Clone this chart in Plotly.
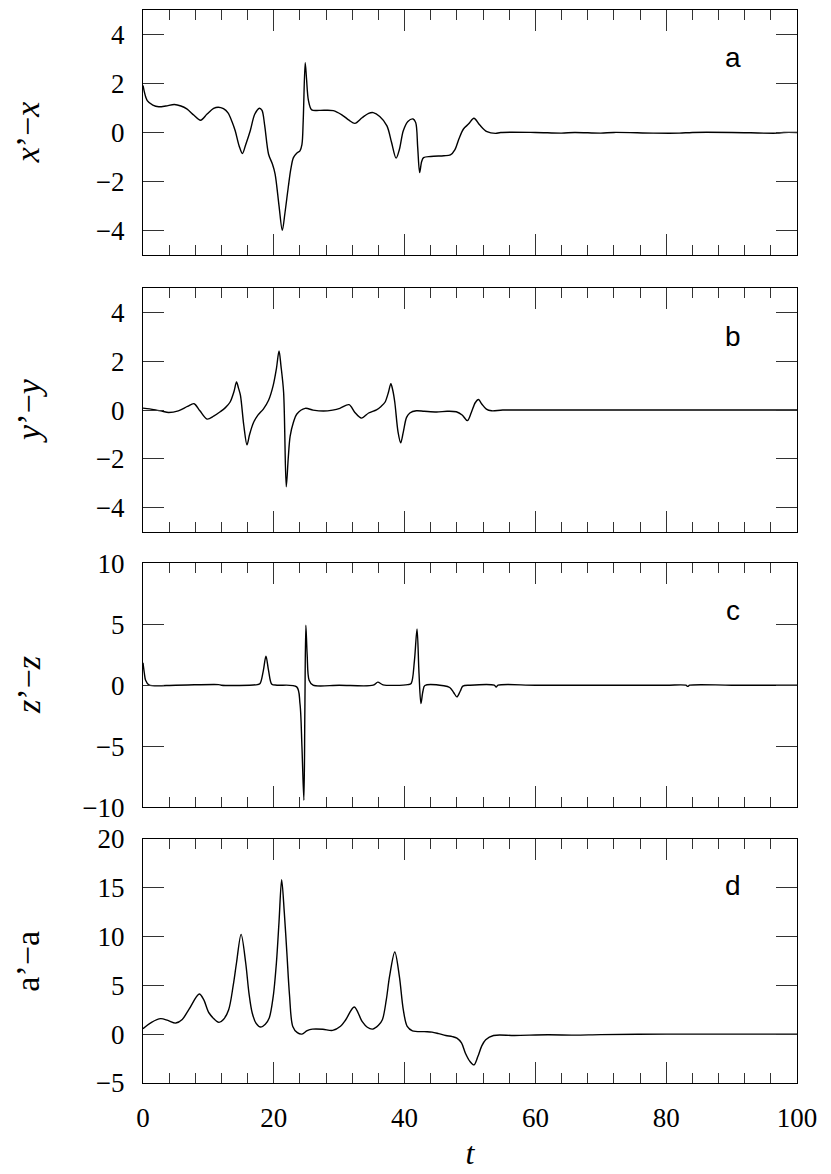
import plotly.graph_objects as go

# ---- data ----
t_a = [0, 0.65, 1.5, 2.4, 3.5, 4.8, 5.8, 6.7, 7.8, 8.8, 9.8, 10.8, 11.5, 12.3, 13.0, 13.6, 14.1, 14.7, 15.2, 15.7,
       16.4, 17.1, 17.8, 18.2, 18.6, 19.2, 19.8, 20.2, 20.8, 21.3, 21.7, 22.2, 22.6, 23.0, 23.5, 24.0, 24.3, 24.5,
       24.8, 25.0, 25.3, 25.8, 27, 29.1, 30.5, 31.5, 32.4, 33.5, 34.5, 35.2, 36.2, 37.3, 38.0, 38.7, 39.2, 39.8,
       40.5, 41.3, 41.7, 42.0, 42.3, 42.6, 42.9, 44, 46, 47.0, 47.7, 48.3, 49.0, 49.8, 50.6, 51.5, 52.6, 53.9,
       54.7, 60, 64, 66, 70, 72, 78, 82, 84, 90, 97, 98, 100]
v_a = [1.92, 1.3, 1.12, 1.05, 1.08, 1.14, 1.08, 0.96, 0.7, 0.5, 0.75, 0.98, 1.03, 0.97, 0.8, 0.45, 0.07, -0.55, -0.86, -0.5,
       0.07, 0.75, 0.99, 0.9, 0.3, -0.89, -1.3, -1.7, -3.0, -4.0, -3.3, -2.26, -1.5, -1.03, -0.85, -0.75, -0.5, 0.5,
       2.85, 2.2, 1.3, 0.92, 0.9, 0.89, 0.7, 0.5, 0.37, 0.6, 0.78, 0.81, 0.65, 0.27, -0.4, -1.05, -0.7, 0.07,
       0.45, 0.55, 0.4, -0.6, -1.64, -1.2, -1.03, -0.98, -0.95, -0.92, -0.7, -0.27, 0.14, 0.35, 0.58, 0.3, 0.03, -0.04,
       0.0, 0.0, -0.03, 0, -0.03, 0, -0.03, -0.03, 0, 0, -0.03, 0, 0]

t_b = [0, 1, 1.9, 3, 3.9, 5.4, 6.8, 7.8, 8.7, 9.8, 10.8, 11.8, 12.6, 13.3, 13.9, 14.3, 14.6, 14.9, 15.4, 15.9,
       16.3, 16.9, 17.6, 18.4, 19.2, 19.9, 20.4, 20.8, 21.1, 21.5, 21.9, 22.2, 22.5, 23.0, 23.5, 24.8, 26, 27.6,
       29, 30.1, 31.5, 32.4, 33.4, 34.5, 35.7, 36.4, 37.0, 37.5, 37.9, 38.2, 38.5, 39.0, 39.4, 39.8, 40.3, 40.8,
       41.8, 43, 44.9, 46.5, 47.9, 48.8, 49.6, 50.2, 50.8, 51.3, 51.8, 52.5, 53.3, 55, 60, 70, 80, 90, 100]
v_b = [0.08, 0.05, 0.01, -0.05, -0.1, -0.03, 0.15, 0.26, -0.03, -0.37, -0.25, -0.07, 0.1, 0.32, 0.75, 1.15, 0.9, 0.6, -0.6, -1.42,
       -1.0, -0.51, -0.2, 0.04, 0.4, 1.0, 1.7, 2.42, 1.8, 0.73, -3.14, -2.0, -1.07, -0.5, -0.17, 0.07, 0.0, -0.04,
       0.0, 0.07, 0.22, -0.1, -0.33, -0.12, 0.01, 0.15, 0.32, 0.7, 1.08, 0.8, 0.32, -0.9, -1.34, -0.9, -0.3, -0.12,
       -0.03, -0.05, -0.08, -0.05, -0.07, -0.2, -0.43, -0.1, 0.3, 0.43, 0.25, 0.04, -0.03, 0, 0, 0, 0, 0, 0]

t_c = [0, 0.2, 0.4, 0.9, 5, 11.6, 12, 17.5, 17.9, 18.4, 18.8, 19.2, 19.7, 20.5, 23.5, 24.0, 24.3, 24.6, 24.75,
       24.9, 25.1, 25.4, 26.0, 30, 35.2, 35.9, 36.7, 40.5, 41.0, 41.5, 41.9, 42.2, 42.5, 42.8, 43.1, 46.0, 46.9,
       47.5, 48.0, 48.5, 48.9, 50, 53.7, 54.0, 54.3, 60, 70, 80, 83, 83.3, 83.6, 90, 100]
v_c = [1.83, 1.0, 0.41, 0.03, 0, 0.05, 0, 0.05, 0.14, 1.2, 2.38, 1.2, 0.08, 0, -0.14, -1.5, -5, -9.43, -2,
       4.92, 2.5, 0.41, 0, 0, 0, 0.25, 0.03, 0.05, 0.14, 2.0, 4.62, 1.0, -1.5, -0.5, -0.03, -0.05, -0.19,
       -0.6, -0.96, -0.5, -0.08, 0, 0, -0.15, 0, 0, 0, 0, 0, -0.1, 0, 0, 0]

t_d = [0, 1.3, 2.7, 3.8, 5.0, 6, 7.0, 8.6, 9.3, 10.1, 11.6, 12.3, 13.1, 13.8, 14.3, 15.0, 15.7, 16.2, 16.7, 17.3,
       18.0, 18.7, 19.3, 19.9, 20.4, 20.8, 21.2, 21.6, 22.0, 22.4, 22.9, 23.6, 24.3, 25.1, 25.9, 27.5, 29.0, 30.2,
       31.0, 32.3, 33.5, 34.3, 35.1, 36.0, 36.6, 37.2, 37.7, 38.5, 39.2, 39.8, 40.4, 41.2, 43, 44.2, 45.2, 46.3,
       47.3, 48.0, 48.7, 49.3, 50.0, 50.6, 51.2, 51.8, 52.4, 53.6, 56.8, 61.9, 66, 70, 80, 90, 100]
v_d = [0.55, 1.2, 1.58, 1.4, 1.13, 1.5, 2.5, 4.1, 3.5, 2.16, 1.2, 1.5, 2.5, 5.0, 7.3, 10.2, 7.3, 4.2, 2.16, 1.1,
       0.72, 1.0, 1.64, 3.8, 7.3, 11.5, 15.8, 12.5, 8.3, 4, 0.79, 0.15, 0, 0.35, 0.51, 0.5, 0.38, 0.8,
       1.47, 2.77, 1.3, 0.7, 0.51, 0.9, 1.47, 3.5, 5.9, 8.4, 5.9, 2.5, 0.79, 0.34, 0.25, 0.2, 0.05, -0.14,
       -0.25, -0.41, -0.9, -1.95, -2.8, -3.15, -2.3, -1.2, -0.58, -0.14, -0.14, -0.07, -0.1, -0.05, 0.0, 0.0, 0.0]

panels = [
    ("a", t_a, v_a, [-5, 5], [-4, -2, 0, 2, 4], "<i>x</i>’−<i>x</i>", [0.7718, 1.0], 3.05),
    ("b", t_b, v_b, [-5, 5], [-4, -2, 0, 2, 4], "<i>y</i>’−<i>y</i>", [0.5133, 0.7410], 3.0),
    ("c", t_c, v_c, [-10, 10], [-10, -5, 0, 5, 10], "<i>z</i>’−<i>z</i>", [0.2571, 0.4844], 6.1),
    ("d", t_d, v_d, [-5, 20], [-5, 0, 5, 10, 15, 20], "a’−a", [0.0, 0.2278], 15.2),
]

FONT = "Liberation Serif, DejaVu Serif, serif"
fig = go.Figure()
layout = dict(
    width=831, height=1174,
    margin=dict(l=143, r=34, t=10, b=91, autoexpand=False),
    paper_bgcolor="white", plot_bgcolor="white",
    showlegend=False,
    annotations=[],
)

for i, (lab, tt, vv, yr, ytv, ytitle, dom, ylab) in enumerate(panels):
    n = i + 1
    xa = "x" if n == 1 else f"x{n}"
    ya = "y" if n == 1 else f"y{n}"
    fig.add_trace(go.Scatter(x=tt, y=vv, mode="lines", xaxis=xa, yaxis=ya,
                             line=dict(color="black", width=1.4, shape="spline", smoothing=0.9)))
    xkey = "xaxis" if n == 1 else f"xaxis{n}"
    ykey = "yaxis" if n == 1 else f"yaxis{n}"
    layout[xkey] = dict(
        domain=[0, 1], anchor=ya, range=[0, 100], automargin=False,
        tickmode="array", tickvals=[0, 20, 40, 60, 80, 100],
        ticks="inside", ticklen=21, tickwidth=1, tickcolor="#333",
        minor=dict(tickmode="array", tickvals=[v for v in range(4, 100, 4) if v % 20 != 0],
                   ticks="inside", ticklen=10, tickwidth=1, tickcolor="#333", showgrid=False),
        showline=True, linecolor="black", linewidth=1.3, mirror="allticks",
        showgrid=False, zeroline=False,
        showticklabels=(n == 4),
        tickfont=dict(family=FONT, size=27, color="black"),
        ticklabelstandoff=10,
    )
    if n == 4:
        layout[xkey]["title"] = dict(text="<i>t</i>", font=dict(family=FONT, size=32, color="black"), standoff=10)
    layout[ykey] = dict(
        domain=dom, anchor=xa, range=yr, automargin=False,
        tickmode="array", tickvals=ytv,
        ticks="inside", ticklen=21, tickwidth=1, tickcolor="#333",
        showline=True, linecolor="black", linewidth=1.3, mirror="allticks",
        showgrid=False, zeroline=False,
        tickfont=dict(family=FONT, size=27, color="black"),
        ticklabelstandoff=12,
    )
    layout["annotations"].append(dict(
        text=lab, xref=xa, yref=ya, x=90.2, y=ylab, showarrow=False,
        font=dict(family="Liberation Sans", size=28, color="black")))
    layout["annotations"].append(dict(
        text=ytitle, xref="paper", yref="paper", x=-0.176, y=(dom[0] + dom[1]) / 2,
        textangle=-90, showarrow=False, xanchor="center", yanchor="middle",
        font=dict(family=FONT, size=34, color="black")))

fig.update_layout(**layout)
fig.write_html("out.html")
